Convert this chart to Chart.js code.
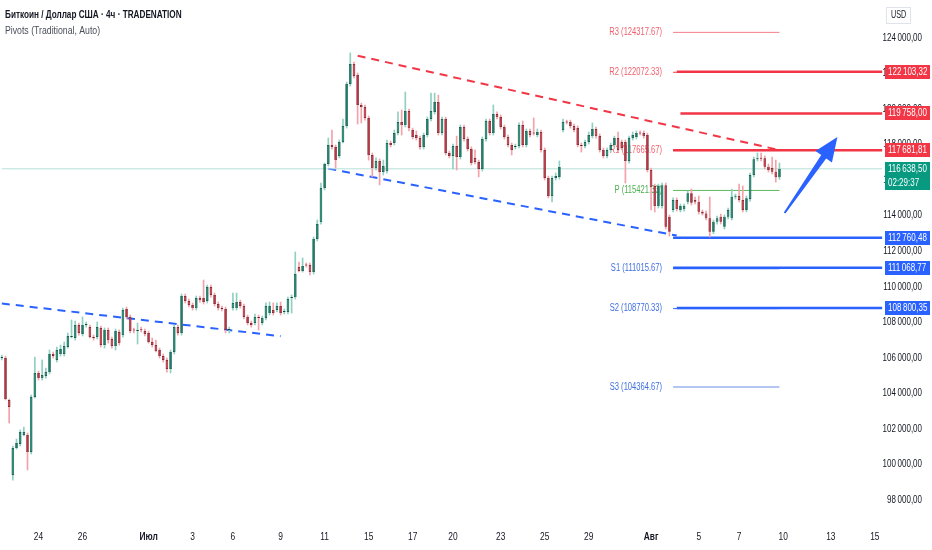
<!DOCTYPE html>
<html>
<head>
<meta charset="utf-8">
<script src="https://cdn.jsdelivr.net/npm/chart.js@4.4.1/dist/chart.umd.min.js"></script>
<style>
  html, body { margin: 0; padding: 0; background: #fff; }
  #wrap { position: relative; width: 932px; height: 550px; }
</style>
</head>
<body>
<div id="wrap"><canvas id="chart"></canvas></div>
<script>
// 4h candles
const opens = [105990,105990,103630,99410,100930,101150,101660,101660,100700,103800,105150,104860,104980,105200,106220,105880,106220,106220,106610,107170,
  107120,107850,107340,107850,107730,107170,107170,107680,106720,107570,107060,106670,107450,107280,108750,108300,107570,107510,107570,107510,
  107400,106890,106720,106440,106100,105880,105370,106330,107730,107400,109480,109200,108970,108800,109370,109370,109200,109990,109540,109030,
  108800,108750,107570,108800,108800,109140,108920,108300,107960,107960,108300,107960,108240,108520,108690,108690,108920,108580,108580,109370,
  109420,111110,110890,111220,111220,110830,112690,113640,115560,116910,117980,117870,117360,118150,119050,121410,122540,121920,120230,120120,
  119500,117420,116680,117080,116460,116510,118090,118090,118650,119270,119100,119890,118820,118540,118370,117870,118540,119440,119840,120400,
  118650,119440,117530,117360,117920,117300,118990,118320,117750,117250,117020,116630,118320,119330,118650,119720,119550,118990,118430,117980,
  117870,117920,119100,117980,118770,118650,118540,118710,117700,116120,115110,116120,116180,118820,119270,119270,119050,118930,117980,117920,
  118150,118480,118880,118480,117700,117360,117700,117980,118370,118150,118150,117080,118370,118430,118650,118650,118540,116570,115670,114540,
  114540,115720,113940,114320,114880,114320,114370,114790,115260,114880,114790,114220,114130,113850,113100,113660,113940,113380,113940,113850,
  115070,115110,114880,114320,114940,116290,117170,117230,117230,116760,116680,116480,116160];
const highs = [106160,106100,103680,101040,101430,101940,102110,101770,103910,106050,105260,105880,105430,106440,106330,106610,106720,106890,107400,108130,
  108070,107960,108300,108020,107850,107280,108020,107790,107680,107680,107170,107620,107570,108800,108860,108410,107680,107960,107730,107620,
  107510,107120,107000,106550,106220,105990,106440,107850,107850,109590,109590,109310,109090,109480,109480,110380,110100,110100,109650,109140,
  108920,108860,107730,109650,109650,109250,109030,108410,108070,108470,108410,108350,109090,109140,109090,109090,109140,108750,109420,109540,
  111960,111390,111620,111340,111340,112800,113760,115840,116960,118370,118820,117980,118260,119440,121520,123160,122650,122030,120340,120230,
  119610,117530,117250,117190,117130,118260,118200,118820,119840,119950,120960,120000,118930,118770,118480,118650,119550,120900,120900,120790,
  119550,119550,117640,118030,118480,119100,119100,118430,117870,117700,117130,118430,119440,119440,120230,119840,119670,119100,118540,118090,
  118030,119220,119330,118880,118880,119500,118880,118820,117810,116230,116230,116400,117080,119440,119380,119380,119160,119050,118090,118260,
  118710,119220,118990,118600,117810,117810,118090,118480,118710,118260,118260,118480,118710,118770,118770,118770,118650,116680,115780,115780,
  115840,115840,114040,115000,115000,114660,114660,115390,115500,115050,115110,114320,114260,115050,113760,113980,114090,114040,114430,115500,
  115220,115780,115670,115110,116400,117300,117530,117530,117360,116910,117300,117130,116960];
const lows = [105880,103630,102330,99120,100870,101040,101600,99690,100590,103740,104750,104750,104860,105090,105990,105770,106100,106100,106550,107120,
  107000,107280,107230,107730,107120,107000,107060,106610,106550,106830,106550,106440,106720,107170,108190,107400,107400,106780,107450,107230,
  106830,106610,106330,105990,105770,105200,105150,106220,107280,107280,109090,108860,108690,108690,109140,109030,109090,109420,108920,108690,
  108640,107400,107400,108690,108690,108800,108190,107850,107730,107850,107570,107850,108130,108410,108410,108580,108410,108470,108470,108520,
  109310,110830,110830,111110,110660,110720,112580,113530,115450,116800,117750,116680,117250,118090,118930,121300,121750,119160,119220,119380,
  117130,116180,116570,115730,116290,116400,117870,117980,118540,118540,118990,118770,118320,118260,117750,117750,118430,119330,119720,118540,
  118540,117420,117250,116630,116570,117190,118200,117640,116850,116910,116180,116510,118200,118540,118540,119440,118880,118320,117870,117420,
  117750,117810,117870,117870,118430,118540,118430,117580,116010,115000,114770,116010,116060,118710,119160,118930,118710,117870,117580,117810,
  118030,118370,118370,117580,117250,117250,117580,117870,117580,117700,115840,116960,118260,118320,118540,118370,116460,114320,114210,114430,
  114430,113250,112850,114210,114260,114210,114260,114660,114600,114660,114090,114040,113760,112800,112990,113530,113530,113250,113820,113760,
  114940,114770,114210,114210,114820,116180,117080,117080,116630,116460,116350,115890,116040];
const closes = [106020,103680,103230,100930,101210,101830,101830,100700,103800,105150,104860,105030,105200,106220,106100,106440,106500,106670,107230,107230,
  107850,107400,107850,107900,107170,107120,107730,106720,107570,107000,106670,107510,106830,108690,108300,107510,107540,107570,107550,107340,
  106890,106720,106380,106100,105880,105370,106330,107730,107400,109480,109200,108970,108800,109370,109250,109140,109990,109540,109030,108800,
  108750,107570,107590,109090,109140,108920,108300,107960,107850,108300,108240,108240,108920,108920,108520,108920,108520,108640,109310,109420,
  110720,110890,111170,111200,110830,112690,113530,115560,116910,117980,117870,117130,118150,119050,121410,122540,121860,120230,120120,119500,
  117420,116680,117080,116460,116800,118090,117980,118650,119270,119100,119890,118930,118430,118370,117870,118540,119440,119890,120400,118650,
  119440,117530,117360,117920,117300,118990,118320,117750,116960,117020,116630,118320,119330,118650,119720,119550,118990,118430,117980,117700,
  117920,119100,117980,118770,118540,118620,118710,117700,116120,115110,116120,116230,116740,119270,119240,119050,118820,117980,117920,118150,
  118540,118880,118480,117700,117360,117700,117980,118370,117700,117810,117080,118370,118540,118650,118620,118480,116570,115610,114540,115670,
  115720,113380,113100,114880,114370,114540,114540,115260,114730,114790,114220,114130,113850,113100,113660,113850,113660,113940,114320,115070,
  115110,114880,114320,114980,116290,117170,117230,117200,116760,116570,116480,116160,116638.5];

const nSlots = 241; // candles plus empty space to the right
const xTickIdx = [10, 22, 40, 52, 63, 76, 88, 100, 112, 123, 136, 148, 160, 177, 190, 201, 213, 226, 238];
const xTickText = ['24', '26', 'Июл', '3', '6', '9', '11', '15', '17', '20', '23', '25', '29', 'Авг', '5', '7', '10', '13', '15'];
const yTickValues = [98000, 100000, 102000, 104000, 106000, 108000, 110000, 112000, 114000, 116000, 118000, 120000, 122000, 124000];

const pivotNames = ['R3', 'R2', 'R1', 'P', 'S1', 'S2', 'S3'];
const pivotValues = [124317.67, 122072.33, 117665.67, 115421.33, 111015.67, 108770.33, 104364.67];
const pivotFrom = 183, pivotTo = 212;

const resLevels = [122103.32, 119758.00, 117681.81];
const resFrom = [184, 185, 183];
const supLevels = [112760.48, 111068.77, 108800.35];
const supFrom = [183, 183, 184];

const lastPrice = 116638.50;
const timer = '02:29:37';

// trend lines: [index, price] pairs
const upperTrend = [[97, 123000], [211, 117740]];
const lowerTrend = [[89, 116650], [184, 112880]];
const oldTrend = [[0, 109060], [76, 107220]];
const arrowPts = [[213.4, 114150], [227.8, 118430]];

const FONT = '"Liberation Sans", Arial, sans-serif';
const GREEN = '#16806a', GREEN_EDGE = '#0c4a3c', GREEN_WICK = '#8fd0c1';
const RED = '#c2313f', RED_EDGE = '#6a1a22', RED_WICK = '#f3a2aa';

const xLabels = Array.from({ length: nSlots }, (_, i) => {
  const k = xTickIdx.indexOf(i);
  return k >= 0 ? xTickText[k] : '';
});
const up = closes.map((c, i) => c >= opens[i]);

function seg(pts) {
  const arr = new Array(nSlots).fill(null);
  pts.forEach(p => { arr[p[0]] = p[1]; });
  return arr;
}
function fmt(v) {
  const parts = v.toFixed(2).split('.');
  return parts[0].replace(/\B(?=(\d{3})+(?!\d))/g, '\u2009') + ',' + parts[1];
}
function lineDs(pts, color, width, dash) {
  return {
    type: 'line', data: seg(pts), borderColor: color, borderWidth: width,
    borderDash: dash || [], pointRadius: 0, spanGaps: true, order: 10
  };
}
// narrow text: the reference uses a condensed face
function txt(ctx, s, x, y, align, font, color, sx) {
  ctx.save();
  ctx.font = font;
  ctx.fillStyle = color;
  ctx.textAlign = align;
  ctx.textBaseline = 'middle';
  ctx.translate(x, y);
  ctx.scale(sx, 1);
  ctx.fillText(s, 0, 0);
  ctx.restore();
}

const datasets = [
  lineDs([[0, lastPrice], [nSlots - 1, lastPrice]], '#b5e0d8', 1),
  lineDs([[pivotFrom, pivotValues[0]], [pivotTo, pivotValues[0]]], '#f47c86', 1),
  lineDs([[pivotFrom, pivotValues[3]], [pivotTo, pivotValues[3]]], '#5cb85c', 1),
  lineDs([[pivotFrom, pivotValues[6]], [pivotTo, pivotValues[6]]], '#9bb4ef', 1.5),
  lineDs([[pivotFrom, pivotValues[1]], [pivotTo, pivotValues[1]]], '#f23645', 1),
  lineDs([[pivotFrom, pivotValues[2]], [pivotTo, pivotValues[2]]], '#f23645', 1),
  lineDs([[pivotFrom, pivotValues[4]], [pivotTo, pivotValues[4]]], '#2962ff', 1),
  lineDs([[pivotFrom, pivotValues[5]], [pivotTo, pivotValues[5]]], '#2962ff', 1),
  ...resLevels.map((v, k) => lineDs([[resFrom[k], v], [nSlots - 1, v]], '#f23645', 2.5)),
  ...supLevels.map((v, k) => lineDs([[supFrom[k], v], [nSlots - 1, v]], '#2962ff', 2.5)),
  lineDs(upperTrend, '#f23645', 2, [8, 6]),
  lineDs(lowerTrend, '#2962ff', 2, [8, 6]),
  lineDs(oldTrend, '#2962ff', 2, [8, 6]),
  {
    type: 'bar', data: lows.map((l, i) => [l, highs[i]]),
    backgroundColor: up.map(u => u ? GREEN_WICK : RED_WICK),
    barThickness: 1, grouped: false, order: 2
  },
  {
    type: 'bar', data: opens.map((o, i) => [o, closes[i]]),
    backgroundColor: up.map(u => u ? GREEN : RED),
    borderColor: up.map(u => u ? GREEN_EDGE : RED_EDGE),
    borderWidth: 0.7, borderSkipped: false, minBarLength: 1,
    barPercentage: 0.72, categoryPercentage: 1, grouped: false, order: 1
  }
];

const overlay = {
  id: 'overlay',
  beforeDatasetsDraw(chart) {
    const { ctx, scales: { x, y } } = chart;
    const px = x.getPixelForValue(pivotFrom) - 11;
    pivotNames.forEach((n, k) => {
      const col = n[0] === 'R' ? '#ef5f6c' : n[0] === 'P' ? '#4caf50' : '#3f6fe0';
      txt(ctx, n + ' (' + pivotValues[k].toFixed(2) + ')', px, y.getPixelForValue(pivotValues[k]),
        'right', '10px ' + FONT, col, 0.76);
    });
  },
  afterDatasetsDraw(chart) {
    const { ctx, scales: { x, y } } = chart;
    const x1 = x.getPixelForValue(arrowPts[0][0]), y1 = y.getPixelForValue(arrowPts[0][1]);
    const x2 = x.getPixelForValue(arrowPts[1][0]), y2 = y.getPixelForValue(arrowPts[1][1]);
    const len = Math.hypot(x2 - x1, y2 - y1);
    const dx = (x2 - x1) / len, dy = (y2 - y1) / len;
    const nx = -dy, ny = dx;
    const head = 24;
    const bx = x2 - dx * head, by = y2 - dy * head;
    ctx.save();
    ctx.fillStyle = '#2962ff';
    ctx.beginPath();
    ctx.moveTo(x1 - nx * 1, y1 - ny * 1);
    ctx.lineTo(bx - nx * 3, by - ny * 3);
    ctx.lineTo(bx - nx * 10, by - ny * 10);
    ctx.lineTo(x2, y2);
    ctx.lineTo(bx + nx * 10, by + ny * 10);
    ctx.lineTo(bx + nx * 3, by + ny * 3);
    ctx.lineTo(x1 + nx * 1, y1 + ny * 1);
    ctx.closePath();
    ctx.fill();
    ctx.restore();
  },
  afterDraw(chart) {
    const { ctx, chartArea, scales: { x, y } } = chart;
    const left = chartArea.right + 1, w = 45;
    const axisRight = chartArea.right + 38;
    // axis labels
    y.ticks.forEach(t => {
      txt(ctx, fmt(t.value), axisRight, y.getPixelForValue(t.value), 'right', '10px ' + FONT, '#131722', 0.8);
    });
    xTickIdx.forEach((idx, k) => {
      const s = xTickText[k];
      const bold = /[А-я]/.test(s);
      txt(ctx, s, x.getPixelForValue(idx), chartArea.bottom + 12, 'center',
        (bold ? 'bold ' : '') + '10.5px ' + FONT, '#131722', 0.8);
    });
    // header
    txt(ctx, 'Биткоин / Доллар США · 4ч · TRADENATION', 5, 15, 'left', 'bold 10.5px ' + FONT, '#131722', 0.78);
    txt(ctx, 'Pivots (Traditional, Auto)', 5, 31, 'left', '10.5px ' + FONT, '#4a4e59', 0.83);
    // USD box
    ctx.save();
    ctx.strokeStyle = '#e0e3eb';
    ctx.lineWidth = 1;
    ctx.fillStyle = '#fff';
    ctx.fillRect(886.5, 7.5, 24, 16);
    ctx.strokeRect(886.5, 7.5, 24, 16);
    ctx.restore();
    txt(ctx, 'USD', 891, 15.5, 'left', '10px ' + FONT, '#131722', 0.72);
    // level boxes on the price axis
    const box = (v, color) => {
      const py = Math.round(y.getPixelForValue(v));
      ctx.fillStyle = color;
      ctx.fillRect(left, py - 7, w, 14);
      txt(ctx, fmt(v), left + 3, py + 0.5, 'left', '10px ' + FONT, '#fff', 0.8);
    };
    resLevels.forEach(v => box(v, '#f23645'));
    supLevels.forEach(v => box(v, '#2962ff'));
    const py = Math.round(y.getPixelForValue(lastPrice));
    ctx.fillStyle = '#089981';
    ctx.fillRect(left, py - 7, w, 28);
    txt(ctx, fmt(lastPrice), left + 3, py + 0.5, 'left', '10px ' + FONT, '#fff', 0.8);
    txt(ctx, timer, left + 3, py + 14, 'left', '10px ' + FONT, '#fff', 0.8);
  }
};

new Chart(document.getElementById('chart'), {
  type: 'bar',
  data: { labels: xLabels, datasets: datasets },
  options: {
    responsive: true,
    maintainAspectRatio: false,
    animation: false,
    layout: { padding: { left: 0, right: 9, top: 0, bottom: 0 } },
    plugins: { legend: { display: false }, tooltip: { enabled: false } },
    scales: {
      x: {
        grid: { display: false },
        border: { display: false },
        ticks: { display: false },
        afterFit: s => { s.height = 25; }
      },
      y: {
        position: 'right',
        min: 96593,
        max: 126139,
        grid: { display: false },
        border: { display: false },
        ticks: { display: false },
        afterFit: s => { s.width = 39; },
        afterBuildTicks: s => { s.ticks = yTickValues.map(v => ({ value: v })); }
      }
    }
  },
  plugins: [overlay]
});
</script>
</body>
</html>
